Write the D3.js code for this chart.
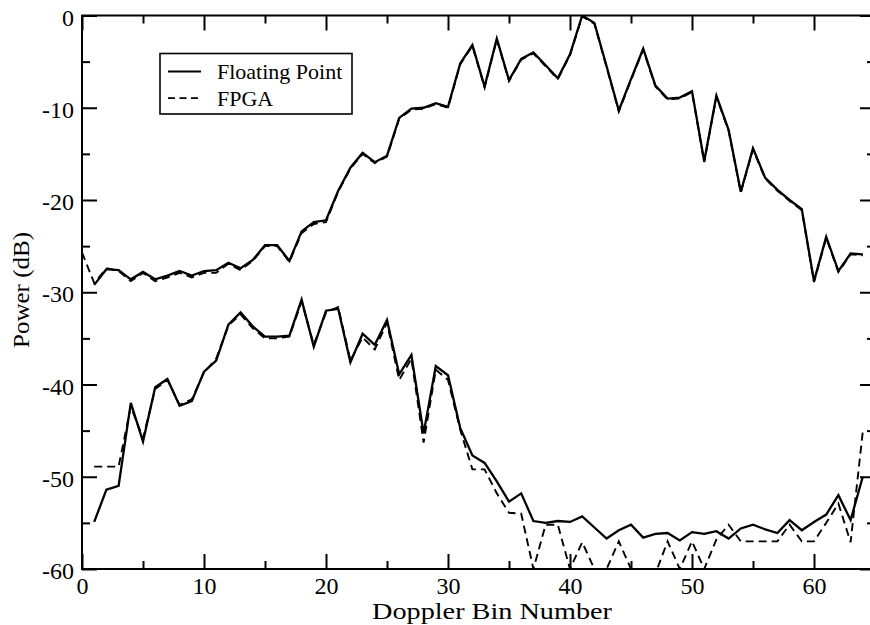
<!DOCTYPE html>
<html>
<head>
<meta charset="utf-8">
<script src="https://cdn.jsdelivr.net/npm/d3@7"></script>
<style>
  html, body { margin: 0; padding: 0; background: #fff; }
  svg { display: block; }
  text { font-family: "Liberation Serif", "Times New Roman", serif; fill: #000; }
</style>
</head>
<body>
<svg id="chart" width="870" height="625"></svg>
<script>
const bins = d3.range(0, 65);

const floatUpper = [null, -29.2, -27.5, -27.6, -28.6, -27.8, -28.6, -28.2, -27.7, -28.2,
  -27.7, -27.6, -26.8, -27.4, -26.5, -24.9, -24.9, -26.6, -23.4, -22.4,
  -22.2, -19.0, -16.5, -14.9, -15.9, -15.2, -11.1, -10.1, -10.0, -9.5,
  -9.9, -5.2, -3.2, -7.7, -2.5, -7.0, -4.7, -4.0, -5.4, -6.8,
  -4.2, 0.0, -0.8, -5.5, -10.3, -6.9, -3.6, -7.6, -9.0, -8.9,
  -8.2, -15.8, -8.7, -12.4, -19.1, -14.4, -17.6, -18.9, -20.0, -21.0,
  -28.8, -24.0, -27.7, -25.8, -25.9];

const fpgaUpper = [-25.7, -29.0, -27.4, -27.7, -28.8, -27.9, -28.8, -28.4, -27.9, -28.4,
  -27.9, -27.9, -26.9, -27.6, -26.6, -25.0, -25.0, -26.7, -23.6, -22.6,
  -22.4, -19.1, -16.6, -15.0, -16.0, -15.3, -11.2, -10.2, -10.1, -9.6,
  -10.0, -5.3, -3.3, -7.8, -2.6, -7.1, -4.8, -4.1, -5.5, -6.9,
  -4.3, -0.1, -0.9, -5.6, -10.4, -7.0, -3.7, -7.7, -9.1, -9.0,
  -8.3, -15.9, -8.8, -12.5, -19.2, -14.5, -17.7, -19.0, -20.1, -21.1,
  -28.9, -24.1, -27.8, -25.9, -26.0];

const floatLower = [null, -54.9, -51.4, -51.0, -42.0, -46.2, -40.3, -39.4, -42.3, -41.8,
  -38.6, -37.4, -33.5, -32.2, -33.7, -34.8, -34.8, -34.7, -30.8, -35.9,
  -32.0, -31.8, -37.6, -34.5, -35.7, -33.0, -38.9, -36.8, -45.3, -38.0,
  -39.0, -44.7, -47.7, -48.5, -50.5, -52.7, -51.8, -54.8, -55.0, -54.8,
  -54.9, -54.3, -55.5, -56.7, -55.8, -55.2, -56.6, -56.2, -56.1, -56.9,
  -56.0, -56.2, -55.9, -56.7, -55.6, -55.2, -55.7, -56.1, -54.7, -55.8,
  -54.9, -54.1, -52.0, -54.7, -50.0];

const fpgaLower = [null, -48.9, -48.9, -48.9, -42.4, -45.8, -40.5, -39.5, -42.2, -41.6,
  -38.7, -37.2, -33.6, -32.4, -33.9, -35.0, -35.0, -34.8, -31.0, -35.7,
  -32.2, -31.6, -37.4, -34.9, -36.2, -33.3, -39.5, -37.2, -46.3, -38.4,
  -39.5, -44.9, -49.2, -49.2, -51.8, -53.9, -54.0, -60.0, -55.2, -55.2,
  -60.0, -57.1, -60.0, -60.0, -57.0, -60.0, -60.0, -60.5, -57.0, -60.0,
  -57.0, -60.0, -56.8, -55.2, -57.0, -57.0, -57.0, -57.0, -55.2, -57.0,
  -57.0, -55.0, -52.9, -57.1, -45.1];

const xMajorTicks = [0, 10, 20, 30, 40, 50, 60];
const xMinorTicks = [5, 15, 25, 35, 45, 55, 65];
const yMajorTicks = [-60, -50, -40, -30, -20, -10, 0];
const yMinorTicks = [-55, -45, -35, -25, -15, -5];
const legendLabels = ["Floating Point", "FPGA"];
const xTitle = "Doppler Bin Number";
const yTitle = "Power (dB)";

const svg = d3.select("#chart");
const L = 82, R = 875, T = 15.5, B = 569;
const x = d3.scaleLinear().domain([0, 65]).range([L, R]);
const y = d3.scaleLinear().domain([-60, 0]).range([B, T]);

svg.append("defs").append("clipPath").attr("id", "plotclip")
  .append("rect").attr("x", L).attr("y", T).attr("width", R - L).attr("height", B - T);

const line = d3.line()
  .defined(d => d.v !== null)
  .x(d => x(d.i)).y(d => y(d.v));
const mk = arr => bins.map(i => ({ i: i, v: arr[i] }));

const g = svg.append("g").attr("clip-path", "url(#plotclip)");
const dashed = "8,5";
[[fpgaUpper, true], [fpgaLower, true], [floatUpper, false], [floatLower, false]].forEach(([arr, isDash]) => {
  g.append("path").datum(mk(arr))
    .attr("d", line)
    .attr("fill", "none")
    .attr("stroke", "#000")
    .attr("stroke-width", isDash ? 1.9 : 2.3)
    .attr("stroke-linejoin", "miter")
    .attr("stroke-dasharray", isDash ? dashed : null);
});

// Axes with inward ticks
const axStroke = 2;
const major = 15, minor = 8;
const axBottom = d3.axisBottom(x).tickValues(xMajorTicks).tickSize(-major).tickFormat(d3.format("d"));
const axBottomMinor = d3.axisBottom(x).tickValues(xMinorTicks).tickSize(-minor).tickFormat("");
const axTop = d3.axisTop(x).tickValues(xMajorTicks).tickSize(-major).tickFormat("");
const axTopMinor = d3.axisTop(x).tickValues(xMinorTicks).tickSize(-minor).tickFormat("");
const axLeft = d3.axisLeft(y).tickValues(yMajorTicks).tickSize(-major).tickFormat(d3.format("d"));
const axLeftMinor = d3.axisLeft(y).tickValues(yMinorTicks).tickSize(-minor).tickFormat("");
const axRight = d3.axisRight(y).tickValues(yMajorTicks).tickSize(-major).tickFormat("");
const axRightMinor = d3.axisRight(y).tickValues(yMinorTicks).tickSize(-minor).tickFormat("");

function styleAxis(sel) {
  sel.select(".domain").remove();
  sel.selectAll(".tick line").attr("stroke", "#000").attr("stroke-width", axStroke);
  sel.selectAll(".tick text").attr("font-family", "Liberation Serif, Times New Roman, serif")
    .attr("font-size", 24).attr("fill", "#000");
}

svg.append("g").attr("transform", `translate(0,${B})`).call(axBottom).call(styleAxis)
  .selectAll(".tick text").attr("y", 25).attr("dy", 0);
svg.append("g").attr("transform", `translate(0,${B})`).call(axBottomMinor).call(styleAxis);
svg.append("g").attr("transform", `translate(0,${T})`).call(axTop).call(styleAxis);
svg.append("g").attr("transform", `translate(0,${T})`).call(axTopMinor).call(styleAxis);
svg.append("g").attr("transform", `translate(${L},0)`).call(axLeft).call(styleAxis)
  .selectAll(".tick text").attr("x", -8).attr("y", 9.5).attr("dy", 0)
  .text(d => String(d));
svg.append("g").attr("transform", `translate(${L},0)`).call(axLeftMinor).call(styleAxis);
svg.append("g").attr("transform", `translate(${R},0)`).call(axRight).call(styleAxis);
svg.append("g").attr("transform", `translate(${R},0)`).call(axRightMinor).call(styleAxis);

// frame
svg.append("rect").attr("x", L).attr("y", T).attr("width", R - L).attr("height", B - T)
  .attr("fill", "none").attr("stroke", "#000").attr("stroke-width", axStroke);

// titles
svg.append("text").attr("x", 492).attr("y", 619)
  .attr("text-anchor", "middle").attr("font-size", 24)
  .attr("textLength", 240).attr("lengthAdjust", "spacingAndGlyphs").text(xTitle);
svg.append("text").attr("transform", `translate(29,290) rotate(-90)`)
  .attr("text-anchor", "middle").attr("font-size", 23)
  .attr("textLength", 116).attr("lengthAdjust", "spacingAndGlyphs").text(yTitle);

// legend
const lg = svg.append("g");
lg.append("rect").attr("x", 160).attr("y", 53.5).attr("width", 192).attr("height", 60.5)
  .attr("fill", "#fff").attr("stroke", "#000").attr("stroke-width", 1.6);
legendLabels.forEach((lab, k) => {
  const yy = 71.5 + k * 26.7;
  lg.append("line").attr("x1", 168).attr("x2", 201).attr("y1", yy).attr("y2", yy)
    .attr("stroke", "#000").attr("stroke-width", k === 0 ? 2 : 1.8)
    .attr("stroke-dasharray", k === 0 ? null : "7,4.5");
  lg.append("text").attr("x", 217).attr("y", yy + 7.5).attr("font-size", 22).text(lab);
});
</script>
</body>
</html>
